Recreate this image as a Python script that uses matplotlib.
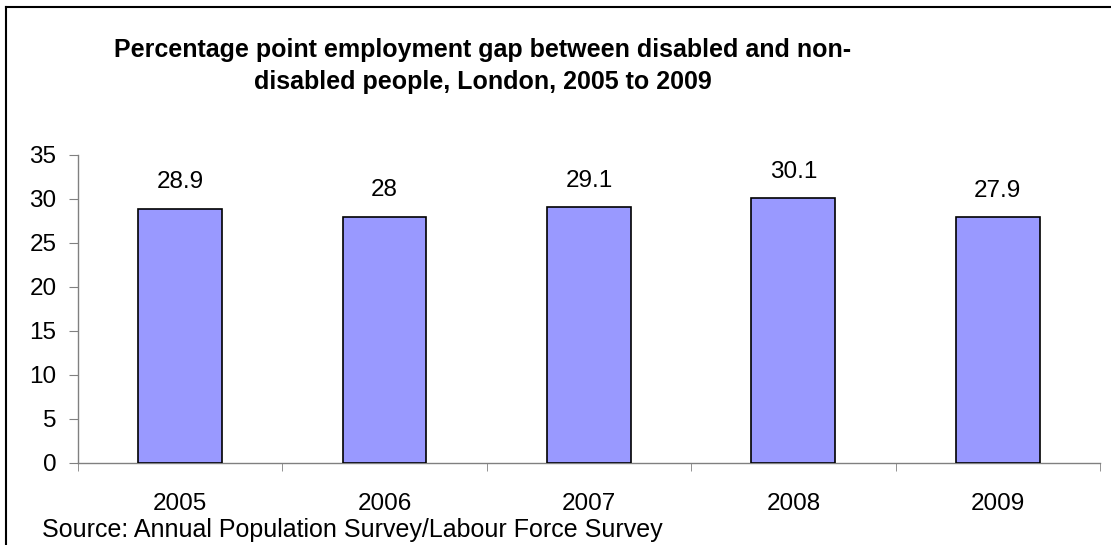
import matplotlib
matplotlib.use("Agg")
import matplotlib.pyplot as plt
from matplotlib.lines import Line2D
import numpy as np

years = ["2005", "2006", "2007", "2008", "2009"]
values = [28.9, 28.0, 29.1, 30.1, 27.9]
value_labels = ["28.9", "28", "29.1", "30.1", "27.9"]
yticks = [0, 5, 10, 15, 20, 25, 30, 35]
title = "Percentage point employment gap between disabled and non-\ndisabled people, London, 2005 to 2009"
source = "Source: Annual Population Survey/Labour Force Survey"

plt.rcParams['font.family'] = ['Liberation Sans', 'DejaVu Sans']

fig = plt.figure(figsize=(11.11, 5.45), dpi=100)
ax = fig.add_axes([0.0702, 0.1505, 0.9198, 0.5651])

FS = 17.5
x = np.arange(len(years))
ax.bar(x, values, width=0.41, color="#9999FF", edgecolor="black", linewidth=1.2, zorder=3)
for xi, v, lab in zip(x, values, value_labels):
    ax.annotate(lab, (xi, v), xytext=(0, 11), textcoords="offset points",
                ha="center", va="bottom", fontsize=FS)

ax.set_xlim(-0.5, len(years) - 0.5)
ax.set_ylim(0, 35)
ax.set_yticks(yticks)
ax.set_yticklabels([str(t) for t in yticks], fontsize=FS)
ax.set_xticks(x)
ax.set_xticklabels(years, fontsize=FS)
ax.set_xticks(np.arange(-0.5, len(years)), minor=True)
ax.tick_params(axis='x', which='major', length=0, pad=21.5)
ax.tick_params(axis='x', which='minor', length=6, color="#808080", direction='out')
ax.tick_params(axis='y', length=6.5, color="#808080", direction='out', pad=9)

for s in ['top', 'right']:
    ax.spines[s].set_visible(False)
for s in ['left', 'bottom']:
    ax.spines[s].set_color("#808080")
    ax.spines[s].set_linewidth(1.0)

fig.text(483 / 1111, 1 - 66 / 545, title, ha="center", va="center",
         fontsize=18, fontweight="bold", linespacing=1.45)
fig.text(42 / 1111, 1 - 530 / 545, source, ha="left", va="center", fontsize=FS + 0.5)

# outer chart border (top and left visible)
fig.add_artist(Line2D([5.5 / 1111, 1.0], [1 - 6.5 / 545, 1 - 6.5 / 545],
                      transform=fig.transFigure, color="black", linewidth=1.5))
fig.add_artist(Line2D([5.5 / 1111, 5.5 / 1111], [0, 1 - 6.5 / 545],
                      transform=fig.transFigure, color="black", linewidth=1.5))

fig.savefig("out.png", dpi=100)
